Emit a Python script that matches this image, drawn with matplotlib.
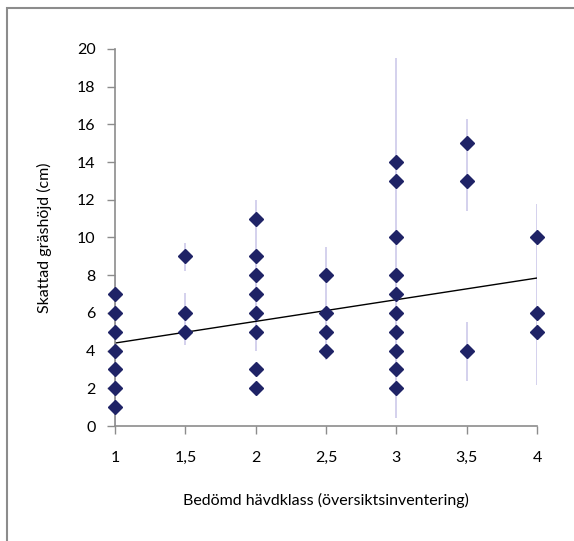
import numpy as np
import matplotlib
matplotlib.use('Agg')
import matplotlib.pyplot as plt
from matplotlib.patches import Rectangle

plt.rcParams['font.family'] = ['Lato', 'DejaVu Sans']

# bedömd hävdklass och skattad gräshöjd (cm)
klass = [1, 1, 1, 1, 1, 1, 1,
         1.5, 1.5, 1.5,
         2, 2, 2, 2, 2, 2, 2, 2,
         2.5, 2.5, 2.5, 2.5,
         3, 3, 3, 3, 3, 3, 3, 3, 3, 3,
         3.5, 3.5, 3.5,
         4, 4, 4]
hojd = [1, 2, 3, 4, 5, 6, 7,
        5, 6, 9,
        2, 3, 5, 6, 7, 8, 9, 11,
        4, 5, 6, 8,
        2, 3, 4, 5, 6, 7, 8, 10, 13, 14,
        4, 13, 15,
        5, 6, 10]

# felstaplar (x, min, max)
fel_x = [1, 1.5, 1.5, 2, 2.5, 3, 3.5, 3.5, 4]
fel_min = [0, 8.2, 4.3, 4.0, 3.5, 0.4, 11.4, 2.4, 2.2]
fel_max = [8, 9.7, 7.05, 12, 9.5, 19.5, 16.3, 5.5, 11.8]

# linjär trendlinje
trend_a = 3.25
trend_b = 1.15

xticks = [1, 1.5, 2, 2.5, 3, 3.5, 4]
xticklabels = ['1', '1,5', '2', '2,5', '3', '3,5', '4']
yticks = list(range(0, 21, 2))

fig = plt.figure(figsize=(5.74, 5.41), dpi=100)
ax = fig.add_axes([115/574, 1-426/541, 422/574, 377/541])

ax.vlines(fel_x, fel_min, fel_max, color='#cdc9ea', lw=1.2, zorder=1)
ax.plot(klass, hojd, 'D', color='#1f2366', ms=7.5, mec='#1f2366', zorder=3, clip_on=False)
tx = np.array([1, 4])
ax.plot(tx, trend_a + trend_b*tx, color='black', lw=1, zorder=2)

ax.set_xlim(1, 4)
ax.set_ylim(0, 20)
ax.set_xticks(xticks)
ax.set_xticklabels(xticklabels)
ax.set_yticks(yticks)
for s in ['top', 'right']:
    ax.spines[s].set_visible(False)
for s in ['left', 'bottom']:
    ax.spines[s].set_color('#8c8c8c')
    ax.spines[s].set_linewidth(1.2)
ax.tick_params(colors='#8c8c8c', labelcolor='black', labelsize=11.5, length=6, width=1, direction='out')
ax.tick_params(axis='x', pad=12)
ax.tick_params(axis='y', pad=8)
ax.set_xlabel('Bedömd hävdklass (översiktsinventering)', fontsize=11.5, labelpad=20)
ax.set_ylabel('Skattad gräshöjd (cm)', fontsize=11.5, labelpad=18)

fig.add_artist(Rectangle((7/574, -0.1), 1.2, 1.1 - 8/541, transform=fig.transFigure,
                         fill=False, edgecolor='#8c8c8c', lw=1.5))

fig.savefig('out.png', dpi=100)
